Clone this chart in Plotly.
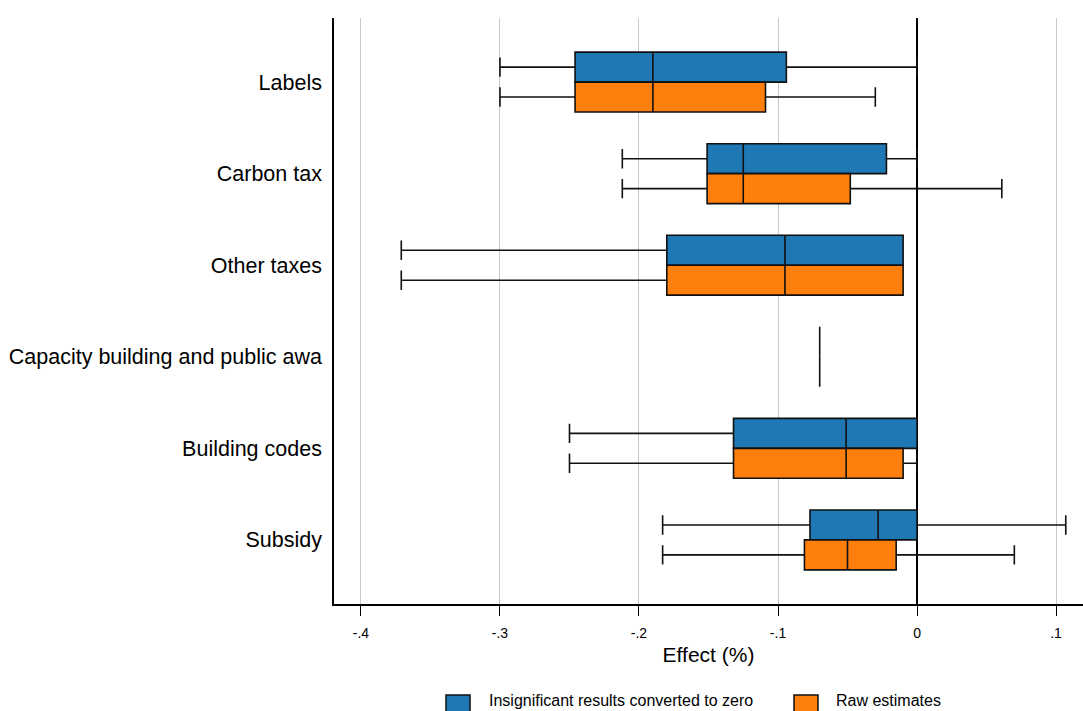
import plotly.graph_objects as go

# Policy categories, top to bottom
categories = ["Labels", "Carbon tax", "Other taxes",
              "Capacity building and public awa", "Building codes", "Subsidy"]

# Box statistics: insignificant results converted to zero
zero_lower = [-0.300, -0.212, -0.371, -0.070, -0.250, -0.183]
zero_q1 = [-0.246, -0.151, -0.180, -0.070, -0.132, -0.077]
zero_median = [-0.190, -0.125, -0.095, -0.070, -0.051, -0.028]
zero_q3 = [-0.094, -0.022, -0.010, -0.070, 0.000, 0.000]
zero_upper = [0.000, 0.000, -0.010, -0.070, 0.000, 0.107]

# Box statistics: raw estimates
raw_lower = [-0.300, -0.212, -0.371, -0.070, -0.250, -0.183]
raw_q1 = [-0.246, -0.151, -0.180, -0.070, -0.132, -0.081]
raw_median = [-0.190, -0.125, -0.095, -0.070, -0.051, -0.050]
raw_q3 = [-0.109, -0.048, -0.010, -0.070, -0.010, -0.015]
raw_upper = [-0.030, 0.061, -0.010, -0.070, 0.000, 0.070]

x_ticks = [-0.4, -0.3, -0.2, -0.1, 0.0, 0.1]
x_tick_text = ["-.4", "-.3", "-.2", "-.1", "0", ".1"]

series = [
    ("Insignificant results converted to zero", "#1f77b4",
     zero_lower, zero_q1, zero_median, zero_q3, zero_upper),
    ("Raw estimates", "#ff7f0e",
     raw_lower, raw_q1, raw_median, raw_q3, raw_upper),
]

FONT = "Liberation Sans, Arial, sans-serif"
W, H = 1083, 711
M_L, M_R, M_T, M_B = 334, 0, 18, 107
PLOT_W = W - M_L - M_R
PLOT_H = H - M_T - M_B


def px_to_paper(px, py):
    return (px - M_L) / PLOT_W, (H - M_B - py) / PLOT_H


fig = go.Figure()
for name, color, lo, q1, med, q3, hi in series:
    fig.add_trace(go.Box(
        y=categories, q1=q1, median=med, q3=q3,
        lowerfence=lo, upperfence=hi,
        orientation="h", name=name, showlegend=False,
        fillcolor=color, line=dict(color="#111111", width=1.6),
        whiskerwidth=0.65, boxpoints=False, hoverinfo="skip",
    ))

# Legend row below the axis: square keys with labels
legend_keys = [(446, 487), (794, 834)]
for (sq_x, txt_x), (name, color, *_) in zip(legend_keys, series):
    x0, y0 = px_to_paper(sq_x, 695)
    x1, y1 = px_to_paper(sq_x + 24, 719)
    fig.add_shape(type="rect", xref="paper", yref="paper",
                  x0=x0, x1=x1, y0=y1, y1=y0,
                  fillcolor=color, line=dict(color="#111111", width=1.5))
    tx, ty = px_to_paper(txt_x, 700)
    fig.add_annotation(xref="paper", yref="paper", x=tx, y=ty,
                       xanchor="left", yanchor="middle", showarrow=False,
                       text=name, font=dict(size=16, family=FONT))

fig.update_layout(
    width=W, height=H,
    margin=dict(l=M_L, r=M_R, t=M_T, b=M_B, autoexpand=False),
    paper_bgcolor="white", plot_bgcolor="white",
    boxmode="group", boxgap=0.346, boxgroupgap=0,
    font=dict(family=FONT, color="black"),
    showlegend=False,
)

fig.update_xaxes(
    range=[-0.4194, 0.1194],
    tickvals=x_ticks, ticktext=x_tick_text,
    tickfont=dict(size=14), ticks="outside", ticklen=10,
    tickcolor="black", tickwidth=1, ticklabelstandoff=5,
    showgrid=True, gridcolor="#c8c8c8", gridwidth=1,
    zeroline=True, zerolinecolor="black", zerolinewidth=1.5,
    showline=True, linecolor="black", linewidth=1.5,
    title=dict(text="Effect (%)", font=dict(size=21), standoff=8),
)

fig.update_yaxes(
    type="category", categoryorder="array", categoryarray=categories,
    range=[5.7, -0.7],
    tickfont=dict(size=21.5), ticks="", ticklabelstandoff=6,
    showgrid=False, zeroline=False,
    showline=True, linecolor="black", linewidth=1.5,
)

fig.write_html("out.html")
